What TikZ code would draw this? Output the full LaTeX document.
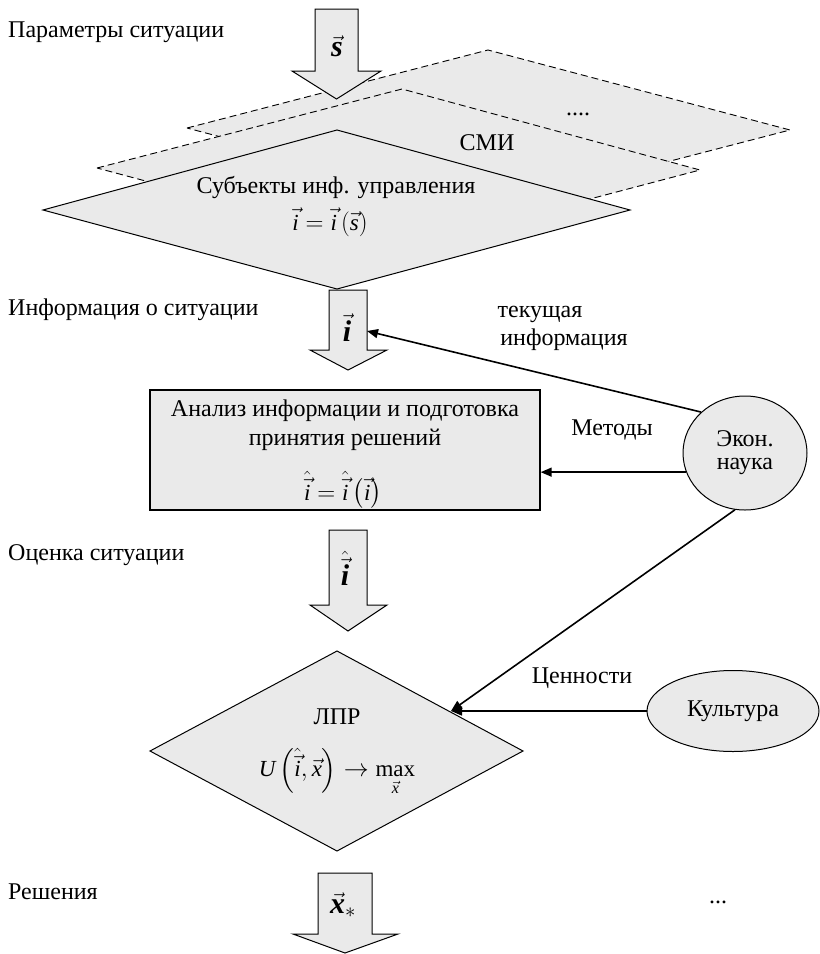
\documentclass[tikz,border=0pt]{standalone}
\usepackage{amsmath}
\usepackage{fontspec}
\setmainfont{Liberation Serif}
\usetikzlibrary{shapes.geometric,arrows.meta}
\definecolor{fillg}{RGB}{234,234,234}
\newcommand{\tvar}[1]{\text{\itshape #1}}
\newcommand{\bvar}[1]{\text{\bfseries\itshape #1}}
\begin{document}
\begin{tikzpicture}[x=1pt,y=-1pt,
  every node/.style={font=\fontsize{24}{24}\selectfont, inner sep=0pt},
  mathf/.style={font=\fontsize{23}{23}\selectfont},
  arrlbl/.style={font=\fontsize{30}{30}\selectfont},
  backdia/.style={fill=fillg, draw=black, line width=0.9pt, dash pattern=on 7pt off 4pt},
  frontdia/.style={fill=fillg, draw=black, line width=1pt},
  barrow/.style={fill=fillg, draw=black, line width=1pt, line join=miter},
  boxst/.style={fill=fillg, draw=black, line width=1.4pt, minimum width=390pt, minimum height=120pt},
  ellst/.style={ellipse, fill=fillg, draw=black, line width=1pt},
  conn/.style={line width=1.6pt, -{Triangle[length=11pt,width=9pt]}}
]
\useasboundingbox (0,0) rectangle (820,954);

% stacked planes
\filldraw[backdia] (187,128) -- (488,50) -- (790,130) -- (489,208) -- cycle;
\filldraw[backdia] (97,168) -- (402,89) -- (700,170) -- (400,249) -- cycle;
\filldraw[frontdia] (43,210) -- (337,130) -- (630,210) -- (337,289) -- cycle;

% block arrows
\filldraw[barrow] (315,9) -- (358,9) -- (358,71) -- (381,71) -- (336.5,99) -- (292,71) -- (315,71) -- cycle;
\filldraw[barrow] (329,290) -- (367,290) -- (367,350) -- (387,350) -- (348,370) -- (310,350) -- (329,350) -- cycle;
\filldraw[barrow] (329,530) -- (367,530) -- (367,605) -- (387,605) -- (348,631) -- (310,605) -- (329,605) -- cycle;
\filldraw[barrow] (318,873) -- (372,873) -- (372,934) -- (398,934) -- (345,953) -- (293,934) -- (318,934) -- cycle;

\node[arrlbl] (ls) at (337,46) {$\vec{\bvar{s}}$};
\node[arrlbl] (li) at (347,328) {$\vec{\bvar{i}}$};
\node[arrlbl] (lih) at (345,568) {$\hat{\vec{\bvar{i}}}$};
\node[arrlbl] (lx) at (343,905) {$\vec{\bvar{x}}_{*}$};

% left captions
\node[anchor=mid west] (ptext) at (8,35) {Параметры ситуации};
\node[anchor=mid west] (itext) at (8,313) {Информация о ситуации};
\node[anchor=mid west] (otext) at (8,558) {Оценка ситуации};
\node[anchor=mid west] (rtext) at (8,897) {Решения};

% plane labels
\node[anchor=mid] (dots4) at (578,113) {....};
\node[anchor=mid] (smi) at (487,148) {СМИ};
\node[anchor=mid] (subj) at (336,191) {Субъекты инф. управления};
\node[mathf] (fsubj) at (330,222) {$\vec{\tvar{i}}=\vec{\tvar{i}}\left(\vec{\tvar{s}}\right)$};

% analysis box
\node[boxst] (box) at (345,450) {};
\node[anchor=mid] (an1) at (345,414) {Анализ информации и подготовка};
\node[anchor=mid] (an2) at (345,443) {принятия решений};
\node[mathf] (fan) at (343,490) {$\hat{\vec{\tvar{i}}}=\hat{\vec{\tvar{i}}}\left(\vec{\tvar{i}}\right)$};

% economics ellipse
\node[ellst, minimum width=124pt, minimum height=114pt, align=center,
      font=\fontsize{24}{23}\selectfont] (econ) at (745,453) {Экон.\\наука};

% decision diamond
\filldraw[frontdia] (150,751) -- (337,651) -- (523,751) -- (337,851) -- cycle;
\node[anchor=mid] (lpr) at (337,722) {ЛПР};
\node[mathf] (flpr) at (337,772) {$\tvar{U}\left(\hat{\vec{\tvar{i}}},\vec{\tvar{x}}\right)\to\mathop{\text{max}}\limits_{\vec{\tvar{x}}}$};

% culture ellipse
\node[ellst, minimum width=172pt, minimum height=81pt] (kult) at (733,711) {Культура};

% connector end points
\coordinate (iin) at (367,331);
\coordinate (lprin) at (451,711);

% connectors
\draw[conn] (econ.137) -- (iin);
\draw[conn] (econ.198) -- (econ.198 -| box.east);
\draw[conn] (econ.260) -- (lprin);
\draw[conn] (kult.west) -- (lprin);

% connector labels
\node[anchor=mid] (tek1) at (540,315) {текущая};
\node[anchor=mid] (tek2) at (564,343) {информация};
\node[anchor=mid] (met) at (612,433) {Методы};
\node[anchor=mid] (cen) at (582,681) {Ценности};
\node[anchor=mid] (dots3) at (718,901) {...};
\end{tikzpicture}
\end{document}
